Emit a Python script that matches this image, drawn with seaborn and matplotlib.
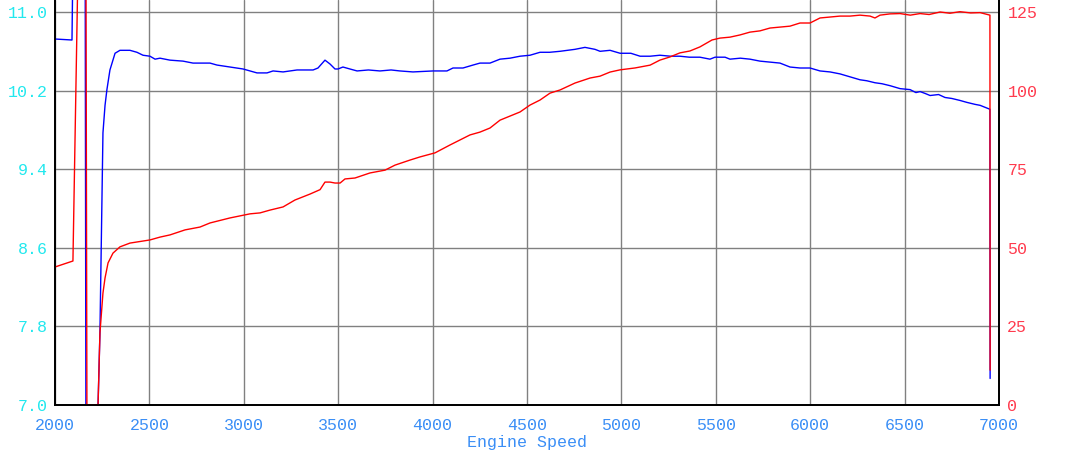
import matplotlib
matplotlib.use("Agg")
import matplotlib.pyplot as plt
import seaborn as sns
import pandas as pd

# ---- data ----
afr_rpm = [2000, 2090, 2101, 2159, 2164, 2222, 2228, 2238, 2254, 2265, 2275, 2291, 2318,
           2344, 2397, 2434, 2466, 2503, 2530, 2556, 2609, 2678, 2731, 2784, 2821, 2858,
           2927, 2996, 3070, 3123, 3155, 3208, 3282, 3367, 3393, 3430, 3457, 3483, 3499,
           3525, 3562, 3600, 3660, 3721, 3780, 3827, 3896, 4002, 4076, 4108, 4161, 4214,
           4251, 4304, 4357, 4410, 4463, 4516, 4569, 4620, 4675, 4754, 4807, 4860, 4887,
           4940, 4993, 5050, 5099, 5152, 5204, 5260, 5310, 5360, 5416, 5469, 5496, 5549,
           5575, 5630, 5681, 5734, 5787, 5840, 5893, 5946, 5999, 6052, 6105, 6158, 6211,
           6264, 6300, 6343, 6380, 6423, 6476, 6529, 6560, 6582, 6610, 6635, 6680, 6714,
           6750, 6793, 6830, 6873, 6900, 6926, 6952, 6953]
afr_val = [10.725, 10.715, 12.5, 12.5, 6.5, 6.5, 7.0, 7.73, 9.77, 10.05, 10.21, 10.41, 10.58,
           10.61, 10.61, 10.59, 10.56, 10.55, 10.52, 10.53, 10.51, 10.50, 10.48, 10.48, 10.48,
           10.46, 10.44, 10.42, 10.38, 10.38, 10.40, 10.39, 10.41, 10.41, 10.43, 10.51, 10.47,
           10.42, 10.42, 10.44, 10.42, 10.40, 10.41, 10.40, 10.41, 10.40, 10.39, 10.40, 10.40,
           10.43, 10.43, 10.46, 10.48, 10.48, 10.52, 10.53, 10.55, 10.56, 10.59, 10.59, 10.60,
           10.62, 10.64, 10.62, 10.60, 10.61, 10.58, 10.58, 10.55, 10.55, 10.56, 10.55, 10.55,
           10.54, 10.54, 10.52, 10.54, 10.54, 10.52, 10.53, 10.52, 10.50, 10.49, 10.48, 10.44,
           10.43, 10.43, 10.40, 10.39, 10.37, 10.34, 10.31, 10.30, 10.28, 10.27, 10.25, 10.22,
           10.21, 10.18, 10.19, 10.17, 10.15, 10.16, 10.13, 10.12, 10.10, 10.08, 10.06, 10.05,
           10.03, 10.01, 7.27]

pwr_rpm = [2000, 2095, 2122, 2164, 2169, 2228, 2238, 2254, 2265, 2281, 2307, 2344, 2397,
           2503, 2556, 2609, 2689, 2768, 2821, 2927, 3033, 3086, 3139, 3208, 3271, 3351,
           3404, 3430, 3457, 3483, 3510, 3536, 3589, 3668, 3748, 3801, 3880, 3933, 4013,
           4092, 4198, 4251, 4304, 4357, 4410, 4463, 4516, 4569, 4622, 4675, 4754, 4834,
           4887, 4940, 4993, 5072, 5152, 5204, 5257, 5310, 5363, 5416, 5480, 5522, 5575,
           5628, 5681, 5734, 5787, 5840, 5893, 5946, 5999, 6052, 6105, 6158, 6211, 6264,
           6317, 6343, 6370, 6423, 6476, 6530, 6582, 6630, 6688, 6740, 6793, 6850, 6900,
           6926, 6952, 6953]
pwr_val = [43.9, 45.8, 140.0, 140.0, 0.0, 0.0, 22.9, 35.6, 40.4, 45.2, 48.3, 50.3, 51.5,
           52.5, 53.4, 54.1, 55.7, 56.6, 57.9, 59.5, 60.8, 61.1, 62.0, 63.0, 65.2, 67.1,
           68.5, 70.9, 70.9, 70.6, 70.6, 71.9, 72.2, 73.8, 74.7, 76.3, 77.9, 78.9, 80.2,
           82.7, 85.9, 86.8, 88.1, 90.6, 91.9, 93.2, 95.4, 97.0, 99.2, 100.2, 102.4, 104.0,
           104.6, 105.9, 106.6, 107.2, 108.1, 109.7, 110.7, 112.0, 112.6, 113.9, 116.1, 116.7,
           117.0, 117.7, 118.6, 119.0, 119.9, 120.2, 120.5, 121.5, 121.5, 123.1, 123.4, 123.7,
           123.7, 124.0, 123.7, 123.1, 124.0, 124.4, 124.5, 124.0, 124.5, 124.2, 125.0, 124.6,
           125.1, 124.7, 124.8, 124.4, 124.0, 11.1]

x_ticks = [2000, 2500, 3000, 3500, 4000, 4500, 5000, 5500, 6000, 6500, 7000]
left_ticks = [7.0, 7.8, 8.6, 9.4, 10.2, 11.0]
right_ticks = [0, 25, 50, 75, 100, 125]
x_label = "Engine Speed"

# ---- style ----
sns.set_theme(style="white")
plt.rcParams['font.family'] = ['Liberation Mono', 'DejaVu Sans Mono', 'DejaVu Sans']

fig = plt.figure(figsize=(10.72, 4.61), dpi=100)
ax = fig.add_axes([55 / 1072, 1 - 405 / 461, 944 / 1072, 405 / 461])
ax2 = ax.twinx()

afr = pd.DataFrame({"rpm": afr_rpm, "val": afr_val})
pwr = pd.DataFrame({"rpm": pwr_rpm, "val": pwr_val})

sns.lineplot(data=afr, x="rpm", y="val", ax=ax, sort=False, estimator=None,
             color="#0000FF", linewidth=1.0)
sns.lineplot(data=pwr, x="rpm", y="val", ax=ax2, sort=False, estimator=None,
             color="#FF0000", linewidth=1.0)

ax.set_xlim(2000, 7000)
ax.set_ylim(7.0, 11.0 + 12 * 4 / 393)
ax2.set_ylim(0, 125 * 405 / 393)

ax.set_xticks(x_ticks)
ax.set_xticklabels([str(t) for t in x_ticks])
ax.set_yticks(left_ticks)
ax.set_yticklabels([f"{t:.1f}" for t in left_ticks])
ax2.set_yticks(right_ticks)
ax2.set_yticklabels([str(t) for t in right_ticks])

ax2.grid(False)
ax.grid(True, color="#808080", linewidth=1.0)
ax.set_axisbelow(True)

ax.tick_params(axis="x", length=0, pad=9, labelsize=12, labelcolor="#3A8EF6")
ax.tick_params(axis="y", length=0, pad=5, labelsize=12, labelcolor="#22E8EE")
ax2.tick_params(axis="y", length=0, pad=6, labelsize=12, labelcolor="#FF3B4E")

ax.set_xlabel(x_label, fontsize=12, color="#3A8EF6", labelpad=2)
ax.set_ylabel("")
ax2.set_ylabel("")

for a in (ax, ax2):
    a.spines["top"].set_visible(False)
    for s in ("left", "bottom", "right"):
        a.spines[s].set_color("black")
        a.spines[s].set_linewidth(1.3)

fig.savefig("out.png", dpi=100)
